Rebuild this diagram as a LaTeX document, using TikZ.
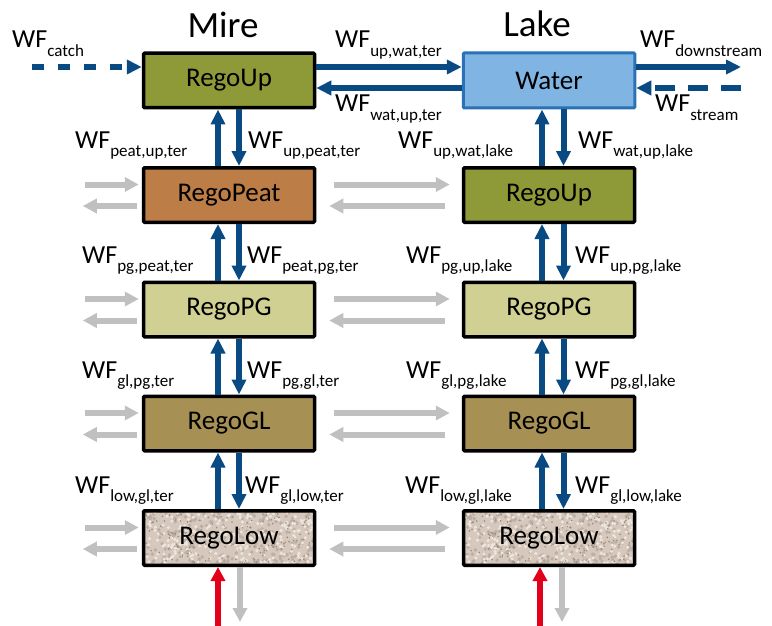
\documentclass[tikz,border=0pt]{standalone}
\usepackage{fontspec}
\setmainfont{Carlito}
\usetikzlibrary{arrows.meta}

\definecolor{flowblue}{HTML}{0A4A82}
\definecolor{flowgray}{HTML}{C0C0C0}
\definecolor{flowred}{HTML}{E2001A}
\definecolor{upcol}{HTML}{8E9A38}
\definecolor{peatcol}{HTML}{BC7D46}
\definecolor{pgcol}{HTML}{D0D092}
\definecolor{glcol}{HTML}{A69054}
\definecolor{watercol}{HTML}{80B4E2}
\definecolor{waterline}{HTML}{2A72B5}
\definecolor{granbase}{HTML}{D6C8BC}
\definecolor{grandark}{HTML}{978A7E}
\definecolor{granmid}{HTML}{BCAEA2}
\definecolor{granlight}{HTML}{EEE6DE}

% water flow label with lowered subscript
\newcommand{\wf}[1]{WF\raisebox{-8.5pt}{\fontsize{17}{17}\selectfont #1}}

\begin{document}
\begin{tikzpicture}[x=1pt,y=-1pt,
  box/.style={draw=black, line width=3.5pt, rounded corners=1pt,
    minimum width=171pt, minimum height=54.5pt, inner sep=0pt,
    font=\fontsize{27}{30}\selectfont},
  granite/.style={fill=granbase, path picture={
    \pgfmathsetseed{17}
    \foreach \i in {1,...,300}{
      \pgfmathsetmacro\px{rnd*178}\pgfmathsetmacro\py{rnd*62}
      \fill[granmid] ([xshift=\px pt,yshift=\py pt]path picture bounding box.south west) circle[radius=1.9pt];}
    \foreach \i in {1,...,320}{
      \pgfmathsetmacro\px{rnd*178}\pgfmathsetmacro\py{rnd*62}
      \fill[granlight] ([xshift=\px pt,yshift=\py pt]path picture bounding box.south west) circle[radius=1.7pt];}
    \foreach \i in {1,...,220}{
      \pgfmathsetmacro\px{rnd*178}\pgfmathsetmacro\py{rnd*62}
      \fill[grandark] ([xshift=\px pt,yshift=\py pt]path picture bounding box.south west) circle[radius=0.9pt];}
  }},
  flow/.style={draw=flowblue, line width=6pt, -{Triangle[length=15pt,width=14pt]}},
  gflow/.style={draw=flowgray, line width=6pt, -{Triangle[length=14pt,width=14pt]}},
  rflow/.style={draw=flowred, line width=6pt, -{Triangle[length=14pt,width=14pt]}},
  lbl/.style={anchor=base west, inner sep=0pt, font=\fontsize{26}{30}\selectfont},
  title/.style={anchor=base, inner sep=0pt, font=\fontsize{37}{40}\selectfont},
]
\useasboundingbox (0,0) rectangle (772,626);

% Mire column
\node[box, fill=upcol]   (mup)   at (229,80.5)  {RegoUp};
\node[box, fill=peatcol] (mpeat) at (229,195)   {RegoPeat};
\node[box, fill=pgcol]   (mpg)   at (229,309.5) {RegoPG};
\node[box, fill=glcol]   (mgl)   at (229,423.5) {RegoGL};
\node[box, granite]      (mlow)  at (229,538)   {RegoLow};

% Lake column
\node[box, draw=waterline, line width=3pt, fill=watercol,
      minimum width=171.5pt, minimum height=55pt] (water) at (549,80.5) {Water};
\node[box, fill=upcol]   (lup)   at (549,195)   {RegoUp};
\node[box, fill=pgcol]   (lpg)   at (549,309.5) {RegoPG};
\node[box, fill=glcol]   (lgl)   at (549,423.5) {RegoGL};
\node[box, granite]      (llow)  at (549,538)   {RegoLow};

% titles
\node[title] (tmire) at (223,38) {Mire};
\node[title] (tlake) at (537,37) {Lake};

% vertical exchange between layers
\foreach \a/\b in {mup/mpeat, mpeat/mpg, mpg/mgl, mgl/mlow}{
  \draw[flow] ([xshift=-11pt]\b.north) -- ([xshift=-11pt]\a.south);
  \draw[flow] ([xshift=10pt]\a.south) -- ([xshift=10pt]\b.north);
}
\foreach \a/\b in {water/lup, lup/lpg, lpg/lgl, lgl/llow}{
  \draw[flow] ([xshift=-7pt]\b.north) -- ([xshift=-7pt]\a.south);
  \draw[flow] ([xshift=14.5pt]\a.south) -- ([xshift=14.5pt]\b.north);
}

% surface flows
\coordinate (catch)  at (32,67);
\coordinate (outlet) at (741,67);
\coordinate (inlet)  at (741,88);
\draw[flow, dash pattern=on 12pt off 14pt] (catch) -- ([yshift=13.5pt]mup.west);
\draw[flow] ([yshift=13.5pt]mup.east) -- ([yshift=13.5pt]water.west);
\draw[flow] ([yshift=-7.5pt]water.west) -- ([yshift=-7.5pt]mup.east);
\draw[flow] ([yshift=13.5pt]water.east) -- (outlet);
\draw[flow, dash pattern=on 20pt off 13pt] (inlet) -- ([yshift=-7.5pt]water.east);

% lateral exchange (grey)
\foreach \m/\l in {mpeat/lup, mpg/lpg, mgl/lgl, mlow/llow}{
  \draw[gflow] ([xshift=-57pt,yshift=10.5pt]\m.west) -- ([xshift=-3pt,yshift=10.5pt]\m.west);
  \draw[gflow] ([xshift=-5pt,yshift=-11pt]\m.west) -- ([xshift=-59pt,yshift=-11pt]\m.west);
  \draw[gflow] ([xshift=18pt,yshift=10.5pt]\m.east) -- ([xshift=-12pt,yshift=10.5pt]\l.west);
  \draw[gflow] ([xshift=-17pt,yshift=-11pt]\l.west) -- ([xshift=13pt,yshift=-11pt]\m.east);
}

% deep exchange at the bottom
\coordinate (mdeep) at (218,626);
\coordinate (ldeep) at (540,626);
\draw[rflow] (mdeep) -- (mdeep |- mlow.south);
\draw[gflow] ([xshift=11pt]mlow.south) -- ++(0,55);
\draw[rflow] (ldeep) -- (ldeep |- llow.south);
\draw[gflow] ([xshift=13pt]llow.south) -- ++(0,55);

% flow labels
\node[lbl] (lcatch) at (12,48)  {\wf{catch}};
\node[lbl] (luwt)   at (335,48) {\wf{up,wat,ter}};
\node[lbl] (lwut)   at (335,112) {\wf{wat,up,ter}};
\node[lbl] (ldown)  at (640,48) {\wf{downstream}};
\node[lbl] (lstrm)  at (655,112) {\wf{stream}};

\node[lbl] (l1a) at (75,148)  {\wf{peat,up,ter}};
\node[lbl] (l1b) at (248,148) {\wf{up,peat,ter}};
\node[lbl] (l1c) at (398,148) {\wf{up,wat,lake}};
\node[lbl] (l1d) at (578,148) {\wf{wat,up,lake}};

\node[lbl] (l2a) at (82,263)  {\wf{pg,peat,ter}};
\node[lbl] (l2b) at (247,263) {\wf{peat,pg,ter}};
\node[lbl] (l2c) at (406,263) {\wf{pg,up,lake}};
\node[lbl] (l2d) at (575,263) {\wf{up,pg,lake}};

\node[lbl] (l3a) at (82,378)  {\wf{gl,pg,ter}};
\node[lbl] (l3b) at (247,378) {\wf{pg,gl,ter}};
\node[lbl] (l3c) at (406,378) {\wf{gl,pg,lake}};
\node[lbl] (l3d) at (575,378) {\wf{pg,gl,lake}};

\node[lbl] (l4a) at (75,493)  {\wf{low,gl,ter}};
\node[lbl] (l4b) at (245,493) {\wf{gl,low,ter}};
\node[lbl] (l4c) at (405,493) {\wf{low,gl,lake}};
\node[lbl] (l4d) at (575,493) {\wf{gl,low,lake}};
\end{tikzpicture}
\end{document}
